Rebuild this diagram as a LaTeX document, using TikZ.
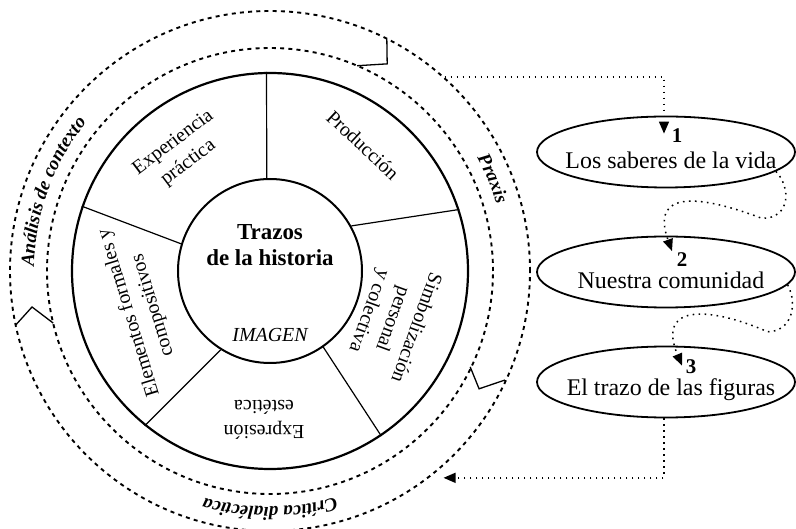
\documentclass[tikz,border=0pt]{standalone}
\usepackage{fontspec}
\setmainfont{Liberation Serif}
\usetikzlibrary{arrows.meta, positioning, shapes.geometric, decorations.text}
\newcommand{\cyclefont}{\fontsize{19}{19}\selectfont\bfseries\itshape}

\begin{document}
\begin{tikzpicture}[
        x=1bp, y=1bp,
        node distance=120bp,
        hub/.style={circle, draw=black, line width=2bp, minimum size=184bp, inner sep=0pt},
        wheel/.style={circle, draw=black, line width=2.2bp, minimum size=396bp, inner sep=0pt},
        divider/.style={line width=1.2bp},
        sector/.style={font=\fontsize{20}{25}\selectfont, align=center, inner sep=0pt},
        ring/.style={line width=1.9bp, dash pattern=on 4bp off 4.2bp},
        fold/.style={line width=1.3bp},
        phase/.style={ellipse, draw=black, line width=1.8bp, minimum width=258bp,
                      minimum height=71bp, inner sep=0pt},
        phasetext/.style={font=\fontsize{24}{28}\selectfont, xshift=5bp, yshift=-8bp, inner sep=0pt},
        stagenum/.style={font=\fontsize{21}{21}\selectfont\bfseries, inner sep=0pt},
        flow/.style={line width=1.5bp, dash pattern=on 1.6bp off 4.4bp,
                     -{Triangle[width=10bp, length=12bp]}}
    ]
        \useasboundingbox (-270,-258) rectangle (526,271);

        \node[wheel] (wheel) at (0,0) {};
        \node[hub] (hub) at (0,0) {};

        \draw[divider] (hub.92) -- (wheel.91);
        \draw[divider] (hub.29) -- (wheel.18);
        \draw[divider] (hub.163) -- (wheel.161);
        \draw[divider] (hub.238) -- (wheel.231);
        \draw[divider] (hub.-55) -- (wheel.-56);

        \node[font=\fontsize{23}{26}\selectfont\bfseries, align=center] (title) at (0,26) {Trazos\\de la historia};
        \node[font=\fontsize{20}{20}\selectfont\itshape, inner sep=0pt] (imagen) at (0,-64) {IMAGEN};

        \node[sector, rotate=37] (practica) at (-89,118) {Experiencia\\práctica};
        \node[sector, rotate=-43] (produccion) at (93,126) {Producción};
        \node[sector, rotate=-110] (simbolizacion) at (122,-48) {Simbolización\\personal\\y colectiva};
        \node[sector, rotate=180] (expresion) at (-6,-149) {Expresión\\estética};
        \node[sector, rotate=107] (elementos) at (-129,-38) {Elementos formales y\\compositivos};

        \draw[ring] (hub.center) circle[radius=223];
        \draw[ring] (hub.center) circle[radius=260];

        \draw[fold] (67:223) -- (60.5:238) -- (63.3:260);
        \draw[fold] (192:260) -- (188.6:240.7) -- (193.5:223);
        \draw[fold] (-25.6:222) -- (-29.4:240) -- (-24.9:259);

        \path[decorate, decoration={text along path, text align=center,
              text={|\cyclefont|Análisis de contexto}}] (200:236) arc[start angle=200, end angle=120, radius=236];
        \path[decorate, decoration={text along path, text align=center,
              text={|\cyclefont|Praxis}}] (60:236) arc[start angle=60, end angle=-15, radius=236];
        \path[decorate, decoration={text along path, text align=center,
              text={|\cyclefont|Crítica dialéctica}}] (-50:236) arc[start angle=-50, end angle=-130, radius=236];

        \coordinate (praxisout) at (48:261);
        \coordinate (criticain) at (-50:270);

        \node[phase, label={[phasetext]center:Los saberes de la vida},
              label={[stagenum, xshift=11bp, yshift=16bp]center:1}] (saberes) at (396,119) {};
        \node[phase, below of=saberes, label={[phasetext]center:Nuestra comunidad},
              label={[stagenum, xshift=16bp, yshift=12bp]center:2}] (comunidad) {};
        \node[phase, below of=comunidad, yshift=10bp, label={[phasetext]center:El trazo de las figuras},
              label={[stagenum, xshift=25bp, yshift=15bp]center:3}] (figuras) {};

        \draw[flow] (praxisout) -| ([xshift=-2bp, yshift=-18bp]saberes.north);
        \draw[flow] (saberes.-10) .. controls +(15,-16) and +(29,0) .. ++(-14,-47)
              .. controls +(-63,24) and +(-22,61) .. ([xshift=6bp, yshift=-15.5bp]comunidad.north);
        \draw[flow] (comunidad.-6) .. controls +(11,-21) and +(23,0) .. ++(-20,-47)
              .. controls +(-52,23) and +(-27,65) .. ([xshift=16bp, yshift=-20bp]figuras.north);
        \draw[flow] ([xshift=-2bp]figuras.south) |- (criticain);
    \end{tikzpicture}
\end{document}
